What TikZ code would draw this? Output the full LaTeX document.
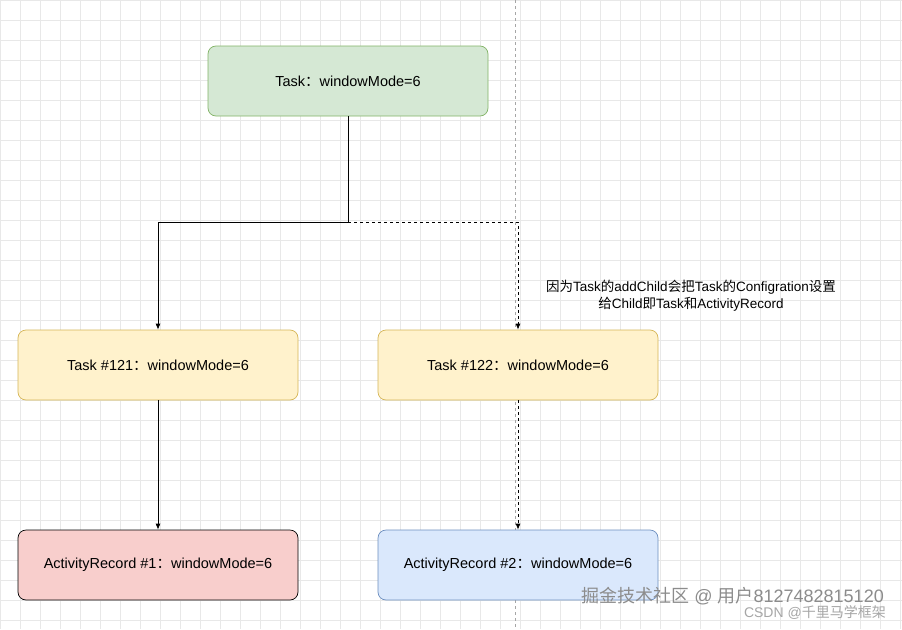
\documentclass[tikz,border=0pt]{standalone}
\usepackage{fontspec}
\setmainfont{Liberation Sans}
\newfontfamily\cjk{Noto Sans CJK SC}
\usetikzlibrary{arrows.meta}
\begin{document}
\begin{tikzpicture}[x=1pt,y=-1pt,
 box/.style={draw,rounded corners=8pt,minimum width=280pt,minimum height=70pt,font=\fontsize{14.5}{16}\selectfont,line width=0.7pt},
 arr/.style={-{Latex[length=6pt,width=5pt]},line width=0.8pt}]
\useasboundingbox (0,0) rectangle (902,629);
\fill[white] (0,0) rectangle (902,629);
\foreach \i in {0,20,...,900} \draw[black!9,line width=0.5pt] (\i,0) -- (\i,629);
\foreach \i in {0,20,...,620} \draw[black!9,line width=0.5pt] (0,\i) -- (902,\i);
\draw[black!35,dashed,line width=0.6pt] (515,0) -- (515,629);
\definecolor{gF}{HTML}{D5E8D4}\definecolor{gD}{HTML}{82B366}
\definecolor{yF}{HTML}{FFF2CC}\definecolor{yD}{HTML}{D6B656}
\definecolor{rF}{HTML}{F8CECC}
\definecolor{bF}{HTML}{DAE8FC}\definecolor{bD}{HTML}{6C8EBF}
\node[box,fill=gF,draw=gD] (t) at (348,81) {Task{\cjk：}windowMode=6};
\node[box,fill=yF,draw=yD] (a) at (158,365) {Task \#121{\cjk：}windowMode=6};
\node[box,fill=yF,draw=yD] (b) at (518,365) {Task \#122{\cjk：}windowMode=6};
\node[box,fill=rF,draw=black] (c) at (158,565) {ActivityRecord \#1{\cjk：}windowMode=6};
\node[box,fill=bF,draw=bD] (d) at (518,565) {ActivityRecord \#2{\cjk：}windowMode=6};
\coordinate (j) at (348,222);
\draw[arr] (t.south) -- (j) -| (a.north);
\draw[arr,dashed] (j) -| (b.north);
\draw[arr] (a) -- (c);
\draw[arr,dashed] (b) -- (d);
\node[font=\fontsize{13.5}{17}\selectfont,align=center] (l) at (691,296) {{\cjk 因为}Task{\cjk 的}addChild{\cjk 会把}Task{\cjk 的}Configration{\cjk 设置}\\{\cjk 给}Child{\cjk 即}Task{\cjk 和}ActivityRecord};
\node[font=\fontsize{18}{18}\selectfont,text=black!45,anchor=east,inner sep=0pt] (w1) at (884,596) {{\cjk 掘金技术社区} @ {\cjk 用户}8127482815120};
\node[font=\fontsize{14}{14}\selectfont,text=black!35,anchor=east,inner sep=0pt] (w2) at (886,613) {CSDN @{\cjk 千里马学框架}};
\end{tikzpicture}
\end{document}
